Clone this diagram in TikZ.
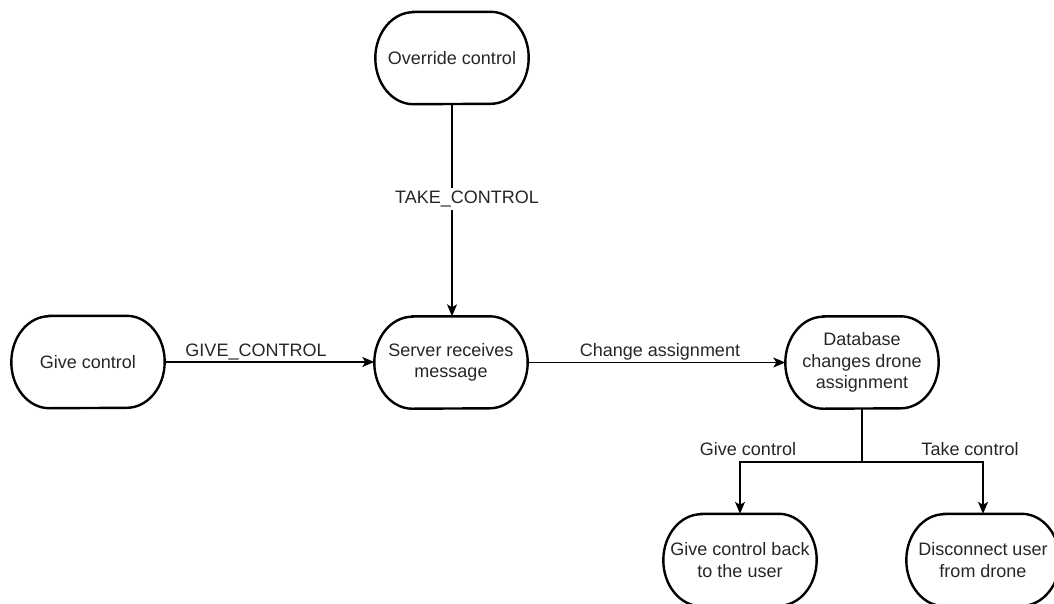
\documentclass[tikz,border=0pt]{standalone}
\usepackage{fontspec}
\setmainfont{Liberation Sans}
\usetikzlibrary{arrows.meta}
\tikzset{
  state/.style={rectangle, minimum width=153pt, minimum height=92pt, inner sep=0pt,
    align=center, font=\fontsize{18}{21.5}\selectfont, text=black!85},
  border/.style={draw=black, line width=2.4pt},
  wire/.style={draw=black, line width=1.4pt},
  flow/.style={wire, -{Stealth[length=12pt,width=10pt,inset=3pt]}},
  lbl/.style={font=\fontsize{18}{21.5}\selectfont, text=black!85, inner sep=1pt},
}
\begin{document}
\begin{tikzpicture}[x=1pt, y=-1pt]
  \useasboundingbox (0,0) rectangle (1054,603);
  \clip (0,0) rectangle (1054,603);

  % states
  \node[state] (over)   at (452,58)    {Override control};
  \node[state] (give)   at (88,362)    {Give control};
  \node[state] (server) at (451,362.5) {Server receives\\message};
  \node[state] (db)     at (862,362.5) {Database\\changes drone\\assignment};
  \node[state] (back)   at (740,560)   {Give control back\\to the user};
  \node[state] (disc)   at (983,560)   {Disconnect user\\from drone};

  % rounded outlines with elliptical ends
  \foreach \n in {over,give,server,db,back,disc}{
    \draw[border] ([xshift=38pt]\n.north west) -- ([xshift=-38pt]\n.north east)
      arc[start angle=-90, end angle=90, x radius=38, y radius=46]
      -- ([xshift=38pt]\n.south west)
      arc[start angle=90, end angle=270, x radius=38, y radius=46] -- cycle;
  }

  % connectors
  \draw[flow] (over.south) -- (over.south |- server.north);
  \node[lbl, fill=white, inner sep=3pt] (tk) at (467,199) {TAKE\_CONTROL};

  \draw[flow] (give.east) -- (give.east -| server.west);
  \node[lbl, anchor=base] (gk) at (256,356) {GIVE\_CONTROL};

  \draw[flow] (server.east) -- (server.east -| db.west);
  \node[lbl, anchor=base] (ca) at (660,356) {Change assignment};

  \coordinate (split) at (862,462);
  \draw[wire] (db.south) -- (split);
  \draw[flow] (split) -| (back.north);
  \draw[flow] (split) -| (disc.north);
  \node[lbl, anchor=base] (gc) at (748,455) {Give control};
  \node[lbl, anchor=base] (tc) at (970,455) {Take control};
\end{tikzpicture}
\end{document}
